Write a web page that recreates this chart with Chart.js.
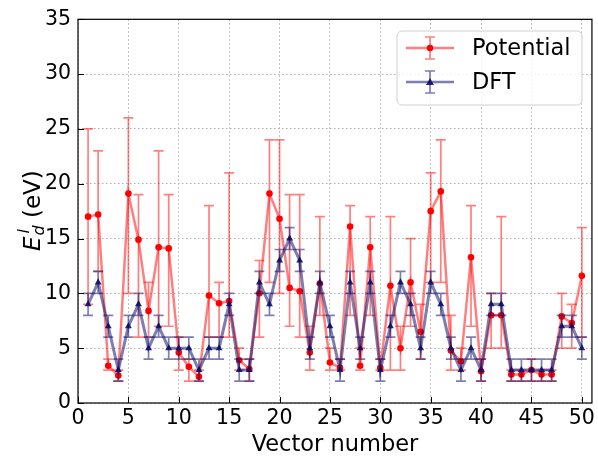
<!DOCTYPE html>
<html>
<head>
<meta charset="utf-8">
<style>
  html, body { margin: 0; padding: 0; background: #fff; }
</style>
</head>
<body>
<canvas id="myChart" width="598" height="459"></canvas>
<script src="https://cdn.jsdelivr.net/npm/chart.js@4.4.0/dist/chart.umd.min.js"></script>
<script>
// vector numbers on the x axis
const vectorNumbers = [1, 2, 3, 4, 5, 6, 7, 8, 9, 10, 11, 12, 13, 14, 15, 16, 17, 18, 19, 20,
    21, 22, 23, 24, 25, 26, 27, 28, 29, 30, 31, 32, 33, 34, 35, 36, 37, 38, 39, 40,
    41, 42, 43, 44, 45, 46, 47, 48, 49, 50];

// Potential: value and error bar ends (eV)
const potential = [17.0, 17.2, 3.4, 2.5, 19.1, 14.9, 8.4, 14.2, 14.1, 4.6,
    3.3, 2.4, 9.8, 9.1, 9.3, 3.9, 3.1, 10.0, 19.1, 16.8,
    10.5, 10.2, 4.6, 10.9, 3.7, 3.2, 16.1, 3.4, 14.2, 3.2,
    10.7, 5.0, 11.0, 6.5, 17.5, 19.3, 4.8, 3.8, 13.3, 2.9,
    8.0, 8.0, 2.6, 2.6, 3.0, 2.6, 2.6, 7.9, 7.3, 11.6];
const potentialLow = [9, 12, 3, 2, 10, 6, 6, 7, 7, 3,
    2, 2, 6, 6, 6, 3, 2, 6, 11, 10,
    7, 6, 3, 8, 3, 3, 8, 3, 8, 3,
    3, 3, 7, 4, 11, 11, 3, 3, 7, 2,
    5, 5, 2, 2, 2, 2, 2, 5, 5, 6];
const potentialHigh = [25, 23, 4, 3, 26, 19, 11, 23, 19, 6,
    4, 3, 18, 11, 21, 5, 4, 13, 24, 24,
    19, 19, 7, 17, 5, 4, 18, 5, 17, 4,
    17, 7, 15, 9, 21, 24, 8, 5, 18, 4,
    10, 17, 3, 3, 4, 3, 3, 10, 9, 16];

// DFT: value and symmetric error (eV)
const dft = [9, 11, 7, 3, 7, 9, 5, 7, 5, 5,
    5, 3, 5, 5, 9, 3, 3, 11, 9, 13,
    15, 13, 5, 11, 7, 3, 11, 5, 11, 3,
    7, 11, 9, 5, 11, 9, 5, 3, 5, 3,
    9, 9, 3, 3, 3, 3, 3, 7, 7, 5];
const dftErr = [1, 1, 1, 1, 1, 1, 1, 1, 1, 1,
    1, 1, 1, 1, 1, 1, 1, 1, 1, 1,
    1, 1, 1, 1, 1, 1, 1, 1, 1, 1,
    1, 1, 1, 1, 1, 1, 1, 1, 1, 1,
    1, 1, 1, 1, 1, 1, 1, 1, 1, 1];

const xTicks = [0, 5, 10, 15, 20, 25, 30, 35, 40, 45, 50];

const RED_LINE = 'rgba(255, 0, 0, 0.5)';
const BLUE_LINE = 'rgba(20, 20, 110, 0.55)';
const BLUE_MARK = 'rgba(15, 15, 100, 0.9)';

Chart.defaults.font.family = "'DejaVu Sans', sans-serif";
Chart.defaults.color = '#000';

const toPoints = (ys) => vectorNumbers.map((x, i) => ({x: x, y: ys[i]}));

// error bars, drawn just before each dataset
const errorBars = {
    id: 'errorBars',
    beforeDatasetDraw(chart, args) {
        const ds = chart.data.datasets[args.index];
        if (!ds.errLow) return;
        const {ctx, scales: {x, y}} = chart;
        ctx.save();
        ctx.strokeStyle = ds.borderColor;
        ctx.lineWidth = 1.7;
        ds.data.forEach((p, i) => {
            const px = x.getPixelForValue(p.x);
            const lo = y.getPixelForValue(ds.errLow[i]);
            const hi = y.getPixelForValue(ds.errHigh[i]);
            ctx.beginPath();
            ctx.moveTo(px, lo); ctx.lineTo(px, hi);
            ctx.moveTo(px - 5, lo); ctx.lineTo(px + 5, lo);
            ctx.moveTo(px - 5, hi); ctx.lineTo(px + 5, hi);
            ctx.stroke();
        });
        ctx.restore();
    }
};

// frame, inward ticks, y label and legend
const decorations = {
    id: 'decorations',
    afterDraw(chart) {
        const {ctx, chartArea: a, scales: {x, y}} = chart;
        ctx.save();
        ctx.strokeStyle = '#000';
        ctx.lineWidth = 1;
        ctx.beginPath();
        xTicks.forEach(v => {
            const px = Math.round(x.getPixelForValue(v)) + 0.5;
            ctx.moveTo(px, a.bottom); ctx.lineTo(px, a.bottom - 6);
        });
        y.ticks.forEach(t => {
            const py = Math.round(y.getPixelForValue(t.value)) + 0.5;
            ctx.moveTo(a.left, py); ctx.lineTo(a.left + 6, py);
        });
        ctx.stroke();
        ctx.lineWidth = 1.2;
        ctx.strokeRect(a.left, a.top, a.right - a.left, a.bottom - a.top);

        // y axis label E_d^l (eV)
        ctx.translate(32, (a.top + a.bottom) / 2);
        ctx.rotate(-Math.PI / 2);
        ctx.fillStyle = '#000';
        ctx.textBaseline = 'alphabetic';
        const big = "23px 'DejaVu Sans'";
        const bigIt = "italic 23px 'DejaVu Sans'";
        const small = "italic 16px 'DejaVu Sans'";
        ctx.font = bigIt;
        const wE = ctx.measureText('E').width;
        ctx.font = small;
        const wS = Math.max(ctx.measureText('d').width, ctx.measureText('l').width);
        ctx.font = big;
        const wR = ctx.measureText(' (eV)').width;
        let cx = -(wE + wS + wR) / 2;
        const base = 8;
        ctx.font = bigIt;
        ctx.fillText('E', cx, base);
        cx += wE + 1;
        ctx.font = small;
        ctx.fillText('d', cx, base + 4);
        ctx.fillText('l', cx + 2, base - 11);
        cx += wS;
        ctx.font = big;
        ctx.fillText(' (eV)', cx, base);
        ctx.restore();

        // legend
        ctx.save();
        const bx = 397, by = 31, bw = 185, bh = 74;
        ctx.beginPath();
        ctx.roundRect(bx, by, bw, bh, 5);
        ctx.fillStyle = 'rgba(255,255,255,0.8)';
        ctx.fill();
        ctx.strokeStyle = '#d0d0d0';
        ctx.lineWidth = 1;
        ctx.stroke();
        const entries = [
            {label: 'Potential', color: RED_LINE, marker: 'circle', fill: 'red', cy: 48},
            {label: 'DFT', color: BLUE_LINE, marker: 'triangle', fill: BLUE_MARK, cy: 82}
        ];
        entries.forEach(e => {
            ctx.strokeStyle = e.color;
            ctx.lineWidth = 2.5;
            ctx.beginPath();
            ctx.moveTo(406, e.cy); ctx.lineTo(454, e.cy);
            ctx.stroke();
            ctx.lineWidth = 1.7;
            ctx.beginPath();
            ctx.moveTo(430, e.cy - 11); ctx.lineTo(430, e.cy + 11);
            ctx.moveTo(425, e.cy - 11); ctx.lineTo(435, e.cy - 11);
            ctx.moveTo(425, e.cy + 11); ctx.lineTo(435, e.cy + 11);
            ctx.stroke();
            ctx.fillStyle = e.fill;
            ctx.beginPath();
            if (e.marker === 'circle') {
                ctx.arc(430, e.cy, 3.3, 0, Math.PI * 2);
            } else {
                ctx.moveTo(430, e.cy - 4); ctx.lineTo(434, e.cy + 3); ctx.lineTo(426, e.cy + 3); ctx.closePath();
            }
            ctx.fill();
            ctx.fillStyle = '#000';
            ctx.font = "22.5px 'DejaVu Sans'";
            ctx.textBaseline = 'middle';
            ctx.fillText(e.label, 472, e.cy + 1);
        });
        ctx.restore();
    }
};

const ctx = document.getElementById('myChart').getContext('2d');
const myChart = new Chart(ctx, {
    type: 'scatter',
    data: {
        datasets: [{
            label: 'Potential',
            data: toPoints(potential),
            errLow: potentialLow,
            errHigh: potentialHigh,
            showLine: true,
            borderColor: RED_LINE,
            borderWidth: 2.5,
            pointStyle: 'circle',
            pointRadius: 3.3,
            pointBackgroundColor: 'red',
            pointBorderWidth: 0,
            order: 2
        }, {
            label: 'DFT',
            data: toPoints(dft),
            errLow: dft.map((v, i) => v - dftErr[i]),
            errHigh: dft.map((v, i) => v + dftErr[i]),
            showLine: true,
            borderColor: BLUE_LINE,
            borderWidth: 3,
            pointStyle: 'triangle',
            pointRadius: 4,
            pointBackgroundColor: BLUE_MARK,
            pointBorderWidth: 0,
            order: 1
        }]
    },
    options: {
        responsive: false,
        animation: false,
        layout: {padding: {top: 19, right: 5, left: 0, bottom: 0}},
        plugins: {legend: {display: false}, tooltip: {enabled: false}},
        scales: {
            x: {
                type: 'linear',
                min: 0,
                max: 51,
                afterBuildTicks: (scale) => { scale.ticks = xTicks.map(v => ({value: v})); },
                afterFit: (scale) => { scale.height = 56; },
                grid: {color: '#b0b0b0', lineWidth: 1, drawTicks: false},
                border: {display: false, dash: [1.5, 2.5]},
                ticks: {font: {size: 20.5}, padding: 3, maxRotation: 0},
                title: {display: true, text: 'Vector number', font: {size: 22.5}, padding: {top: 0, bottom: 0}}
            },
            y: {
                min: 0,
                max: 35,
                afterFit: (scale) => { scale.width = 78; },
                grid: {color: '#b0b0b0', lineWidth: 1, drawTicks: false},
                border: {display: false, dash: [1.5, 2.5]},
                ticks: {stepSize: 5, font: {size: 20.5}, padding: 7}
            }
        }
    },
    plugins: [errorBars, decorations]
});
</script>
</body>
</html>
